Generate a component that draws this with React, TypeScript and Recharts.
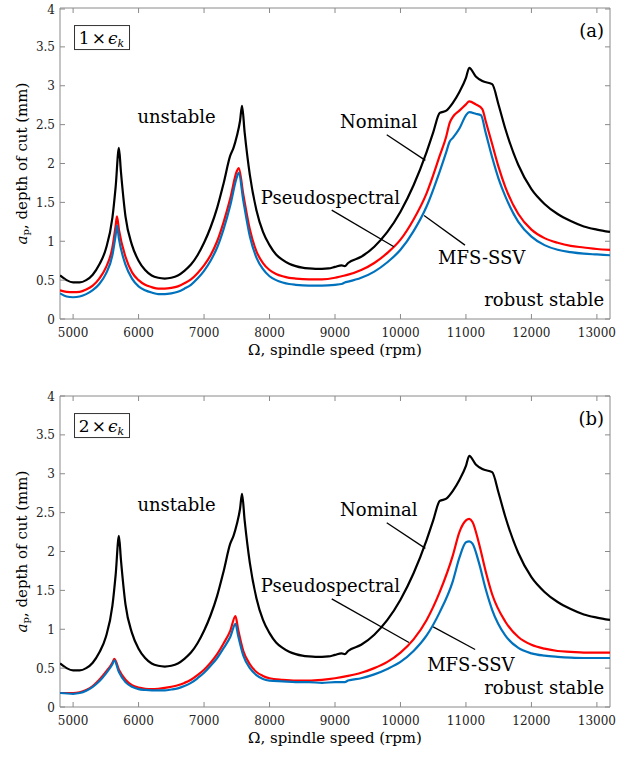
import React from 'react';
import { LineChart, Line, XAxis, YAxis, ReferenceLine, ReferenceDot, ReferenceArea, Label } from 'recharts';

type Pt = [number, number];

// spindle speed (rpm), depth of cut (mm)
const nominal: Pt[] = [
  [4800, 0.56], [4900, 0.5], [5000, 0.47], [5100, 0.47], [5200, 0.5], [5300, 0.57], [5400, 0.7],
  [5500, 0.9], [5600, 1.3], [5650, 1.7], [5700, 2.2], [5730, 1.9], [5800, 1.32], [5900, 0.95],
  [6000, 0.75], [6100, 0.63], [6200, 0.56], [6300, 0.53], [6400, 0.52], [6500, 0.53], [6600, 0.56],
  [6700, 0.62], [6800, 0.7], [6900, 0.82], [7000, 0.98], [7100, 1.18], [7200, 1.43], [7300, 1.75],
  [7400, 2.1], [7450, 2.2], [7500, 2.35], [7550, 2.55], [7580, 2.74], [7620, 2.4], [7700, 1.85],
  [7800, 1.4], [7900, 1.12], [8000, 0.95], [8100, 0.83], [8200, 0.76], [8300, 0.71], [8400, 0.68],
  [8500, 0.66], [8600, 0.65], [8700, 0.645], [8800, 0.645], [8900, 0.65], [9000, 0.67], [9100, 0.69],
  [9150, 0.68], [9200, 0.72], [9400, 0.8], [9600, 0.93], [9800, 1.12], [10000, 1.38], [10200, 1.72],
  [10400, 2.15], [10500, 2.4], [10600, 2.65], [10700, 2.68], [10800, 2.78], [10900, 2.92], [11000, 3.1],
  [11050, 3.23], [11150, 3.12], [11250, 3.06], [11400, 3.02], [11500, 2.75], [11600, 2.45], [11800, 1.98],
  [12000, 1.67], [12200, 1.48], [12400, 1.35], [12600, 1.26], [12800, 1.19], [13000, 1.15], [13200, 1.12],
];

const pseudoA: Pt[] = [
  [4800, 0.37], [4900, 0.35], [5000, 0.345], [5100, 0.35], [5200, 0.38], [5300, 0.43], [5400, 0.52],
  [5500, 0.66], [5600, 0.92], [5650, 1.2], [5670, 1.32], [5700, 1.15], [5800, 0.8], [5900, 0.6],
  [6000, 0.5], [6100, 0.44], [6200, 0.41], [6300, 0.39], [6400, 0.39], [6500, 0.4], [6600, 0.42],
  [6700, 0.46], [6800, 0.51], [6900, 0.59], [7000, 0.69], [7100, 0.82], [7200, 1.0], [7300, 1.25],
  [7400, 1.55], [7500, 1.9], [7530, 1.94], [7600, 1.6], [7700, 1.15], [7800, 0.87], [7900, 0.72],
  [8000, 0.63], [8100, 0.58], [8200, 0.55], [8300, 0.53], [8400, 0.52], [8600, 0.51], [8800, 0.51],
  [9000, 0.53], [9100, 0.55], [9200, 0.57], [9400, 0.63], [9600, 0.72], [9800, 0.85], [10000, 1.02],
  [10200, 1.28], [10400, 1.62], [10600, 2.1], [10700, 2.35], [10750, 2.52], [10800, 2.6], [10900, 2.68],
  [11000, 2.76], [11050, 2.8], [11150, 2.76], [11250, 2.7], [11300, 2.55], [11400, 2.25], [11500, 1.95],
  [11600, 1.7], [11800, 1.35], [12000, 1.15], [12200, 1.04], [12400, 0.98], [12600, 0.94], [12800, 0.92],
  [13000, 0.9], [13200, 0.89],
];

const mfsA: Pt[] = [
  [4800, 0.33], [4900, 0.29], [5000, 0.28], [5100, 0.29], [5200, 0.32], [5300, 0.37], [5400, 0.45],
  [5500, 0.58], [5600, 0.82], [5650, 1.08], [5670, 1.2], [5700, 1.03], [5800, 0.7], [5900, 0.52],
  [6000, 0.42], [6100, 0.37], [6200, 0.34], [6300, 0.32], [6400, 0.32], [6500, 0.33], [6600, 0.35],
  [6700, 0.39], [6800, 0.44], [6900, 0.52], [7000, 0.62], [7100, 0.75], [7200, 0.92], [7300, 1.16],
  [7400, 1.46], [7500, 1.82], [7530, 1.88], [7600, 1.52], [7700, 1.06], [7800, 0.79], [7900, 0.64],
  [8000, 0.55], [8100, 0.5], [8200, 0.47], [8300, 0.45], [8400, 0.44], [8600, 0.43], [8800, 0.43],
  [9000, 0.44], [9100, 0.45], [9150, 0.47], [9200, 0.48], [9400, 0.53], [9600, 0.61], [9800, 0.73],
  [10000, 0.89], [10200, 1.13], [10400, 1.45], [10600, 1.9], [10700, 2.15], [10750, 2.28], [10800, 2.33],
  [10900, 2.45], [11000, 2.62], [11050, 2.66], [11150, 2.64], [11230, 2.62], [11300, 2.4], [11400, 2.08],
  [11500, 1.8], [11600, 1.58], [11800, 1.25], [12000, 1.06], [12200, 0.95], [12400, 0.89], [12600, 0.86],
  [12800, 0.84], [13000, 0.83], [13200, 0.82],
];

const pseudoB: Pt[] = [
  [4800, 0.18], [5000, 0.18], [5100, 0.19], [5200, 0.22], [5300, 0.27], [5400, 0.35], [5500, 0.45],
  [5600, 0.57], [5630, 0.62], [5700, 0.48], [5800, 0.35], [5900, 0.28], [6000, 0.25], [6100, 0.235],
  [6200, 0.23], [6300, 0.235], [6400, 0.245], [6500, 0.26], [6600, 0.28], [6700, 0.31], [6800, 0.35],
  [6900, 0.41], [7000, 0.48], [7100, 0.57], [7200, 0.68], [7300, 0.82], [7400, 0.98], [7480, 1.17],
  [7520, 1.0], [7600, 0.72], [7700, 0.55], [7800, 0.45], [7900, 0.4], [8000, 0.37], [8200, 0.35],
  [8400, 0.34], [8600, 0.34], [8800, 0.35], [9000, 0.37], [9200, 0.4], [9400, 0.44], [9600, 0.5],
  [9800, 0.58], [10000, 0.7], [10200, 0.87], [10400, 1.12], [10600, 1.48], [10800, 1.95], [10900, 2.25],
  [11000, 2.4], [11050, 2.42], [11100, 2.38], [11200, 2.1], [11300, 1.75], [11400, 1.45], [11600, 1.1],
  [11800, 0.9], [12000, 0.8], [12200, 0.75], [12400, 0.72], [12600, 0.71], [12800, 0.7], [13000, 0.7],
  [13200, 0.7],
];

const mfsB: Pt[] = [
  [4800, 0.18], [5000, 0.17], [5100, 0.18], [5200, 0.21], [5300, 0.26], [5400, 0.33], [5500, 0.43],
  [5600, 0.55], [5630, 0.6], [5700, 0.45], [5800, 0.32], [5900, 0.26], [6000, 0.23], [6100, 0.22],
  [6200, 0.215], [6300, 0.215], [6400, 0.215], [6500, 0.225], [6600, 0.24], [6700, 0.27], [6800, 0.31],
  [6900, 0.37], [7000, 0.44], [7100, 0.53], [7200, 0.63], [7300, 0.76], [7400, 0.9], [7480, 1.07],
  [7520, 0.92], [7600, 0.66], [7700, 0.5], [7800, 0.41], [7900, 0.36], [8000, 0.34], [8200, 0.33],
  [8400, 0.32], [8600, 0.32], [8800, 0.31], [9000, 0.32], [9150, 0.32], [9200, 0.34], [9400, 0.37],
  [9600, 0.42], [9800, 0.49], [10000, 0.58], [10200, 0.72], [10400, 0.92], [10600, 1.22], [10800, 1.62],
  [10900, 1.92], [11000, 2.12], [11050, 2.13], [11100, 2.1], [11200, 1.85], [11300, 1.52], [11400, 1.25],
  [11600, 0.92], [11800, 0.76], [12000, 0.69], [12200, 0.66], [12400, 0.645], [12600, 0.635], [12800, 0.63],
  [13000, 0.63], [13200, 0.63],
];

const xTicks = [5000, 6000, 7000, 8000, 9000, 10000, 11000, 12000, 13000];
const yTicks = [0, 0.5, 1, 1.5, 2, 2.5, 3, 3.5, 4];

const FONT = '"DejaVu Serif", "Liberation Serif", serif';
const FRAME = '#8a8a8a';
const W = 634;
const LEFT = 60;
const RIGHT = 610;
const serif = (size: number) => ({ fontFamily: FONT, fontSize: size, fontWeight: 400 });

const rows = (pts: Pt[]) => pts.map(([x, y]) => ({ x, y }));

const makeXTick = (top: number, bottom: number) => (props: any) => (
  <g>
    <line x1={props.x} x2={props.x} y1={bottom} y2={bottom - 5} stroke={FRAME} />
    <line x1={props.x} x2={props.x} y1={top} y2={top + 5} stroke={FRAME} />
    <text x={props.x} y={bottom + 18} textAnchor="middle" style={serif(12)} fill="#222">
      {props.payload.value}
    </text>
  </g>
);

const makeYTick = () => (props: any) => (
  <g>
    <line x1={LEFT} x2={LEFT + 5} y1={props.y} y2={props.y} stroke={FRAME} />
    <line x1={RIGHT} x2={RIGHT - 5} y1={props.y} y2={props.y} stroke={FRAME} />
    <text x={LEFT - 5} y={props.y + 4.5} textAnchor="end" style={serif(12)} fill="#222">
      {props.payload.value}
    </text>
  </g>
);

const EpsBox = (factor: string) => (props: any) => {
  const vb = props.viewBox || {};
  const cx = vb.x + (vb.width || 0) / 2;
  const cy = vb.y + (vb.height || 0) / 2;
  return (
    <g>
      <rect x={cx - 27} y={cy - 12} width={55} height={24} fill="#fff" stroke="#333" strokeWidth={1} />
      <text x={cx} y={cy + 6} textAnchor="middle" style={serif(17)} fill="#000">
        {factor}
        <tspan dx={2}>×</tspan>
        <tspan dx={2} fontStyle="italic">ϵ</tspan>
        <tspan fontStyle="italic" fontSize={11} dy={3}>k</tspan>
      </text>
    </g>
  );
};

const note = (text: string, anchor: 'middle' | 'end' = 'middle') => (props: any) => {
  const vb = props.viewBox || {};
  const cx = vb.x + (vb.width || 0) / 2;
  const cy = vb.y + (vb.height || 0) / 2;
  return (
    <text x={cx} y={cy + 6} textAnchor={anchor} style={serif(18)} fill="#000">
      {text}
    </text>
  );
};

interface PanelProps {
  pseudo: Pt[];
  mfs: Pt[];
  tag: string;
  factor: string;
  height: number;
  top: number;
  bottom: number;
  mfsText: Pt;
  mfsLead: [Pt, Pt];
  pseudoLead: [Pt, Pt];
}

function Panel({ pseudo, mfs, tag, factor, height, top, bottom, mfsText, mfsLead, pseudoLead }: PanelProps) {
  const plotBottom = height - bottom;
  const mid = (top + plotBottom) / 2;
  const seg = (s: [Pt, Pt]) => [{ x: s[0][0], y: s[0][1] }, { x: s[1][0], y: s[1][1] }];
  return (
    <LineChart width={W} height={height} margin={{ top, right: W - RIGHT, bottom: bottom - 1, left: LEFT - 1 }}>
      <XAxis
        dataKey="x"
        type="number"
        domain={[4800, 13200]}
        ticks={xTicks}
        height={1}
        axisLine={false}
        tickLine={false}
        tick={makeXTick(top, plotBottom)}
        allowDataOverflow
      >
        <Label
          content={() => (
            <text x={335} y={plotBottom + 36} textAnchor="middle" style={serif(15)} fill="#000">
              Ω, spindle speed (rpm)
            </text>
          )}
        />
      </XAxis>
      <YAxis
        type="number"
        domain={[0, 4]}
        ticks={yTicks}
        width={1}
        axisLine={false}
        tickLine={false}
        tick={makeYTick()}
        allowDataOverflow
      >
        <Label
          content={() => (
            <text
              x={22}
              y={mid}
              transform={`rotate(-90 22 ${mid})`}
              textAnchor="middle"
              dominantBaseline="central"
              style={serif(15)}
              fill="#000"
            >
              <tspan fontStyle="italic">a</tspan>
              <tspan fontSize={10} dy={3}>p</tspan>
              <tspan dy={-3}>, depth of cut (mm)</tspan>
            </text>
          )}
        />
      </YAxis>
      <ReferenceArea x1={4800} x2={13200} y1={0} y2={4} fill="none" stroke={FRAME} strokeWidth={1} />
      <Line data={rows(nominal)} dataKey="y" stroke="#000" strokeWidth={2.2} dot={false} type="monotone" isAnimationActive={false} />
      <Line data={rows(pseudo)} dataKey="y" stroke="#ff0000" strokeWidth={2.2} dot={false} type="monotone" isAnimationActive={false} />
      <Line data={rows(mfs)} dataKey="y" stroke="#0072bd" strokeWidth={2.2} dot={false} type="monotone" isAnimationActive={false} />
      <ReferenceLine segment={[{ x: 9790, y: 2.37 }, { x: 10380, y: 2.04 }]} stroke="#000" strokeWidth={1.3} />
      <ReferenceLine segment={seg(pseudoLead)} stroke="#000" strokeWidth={1.3} />
      <ReferenceLine segment={seg(mfsLead)} stroke="#000" strokeWidth={1.3} />
      <ReferenceDot x={6580} y={2.6} r={0} stroke="none" label={{ content: note('unstable') }} />
      <ReferenceDot x={9670} y={2.54} r={0} stroke="none" label={{ content: note('Nominal') }} />
      <ReferenceDot x={8930} y={1.55} r={0} stroke="none" label={{ content: note('Pseudospectral') }} />
      <ReferenceDot x={mfsText[0]} y={mfsText[1]} r={0} stroke="none" label={{ content: note('MFS-SSV') }} />
      <ReferenceDot x={13110} y={0.25} r={0} stroke="none" label={{ content: note('robust stable', 'end') }} />
      <ReferenceDot x={13110} y={3.71} r={0} stroke="none" label={{ content: note(tag, 'end') }} />
      <ReferenceDot x={5434} y={3.62} r={0} stroke="none" label={{ content: EpsBox(factor) }} />
    </LineChart>
  );
}

export default function App() {
  return (
    <div style={{ position: 'absolute', left: 0, top: 0, width: W, height: 757, background: '#fff' }}>
      <Panel
        pseudo={pseudoA}
        mfs={mfsA}
        tag="(a)"
        factor="1"
        height={378}
        top={8}
        bottom={59}
        mfsText={[11240, 0.78]}
        mfsLead={[[10360, 1.33], [10985, 0.95]]}
        pseudoLead={[[8950, 1.4], [9900, 0.93]]}
      />
      <Panel
        pseudo={pseudoB}
        mfs={mfsB}
        tag="(b)"
        factor="2"
        height={379}
        top={18}
        bottom={50}
        mfsText={[11075, 0.54]}
        mfsLead={[[10500, 1.03], [11140, 0.74]]}
        pseudoLead={[[8950, 1.39], [10130, 0.83]]}
      />
    </div>
  );
}
